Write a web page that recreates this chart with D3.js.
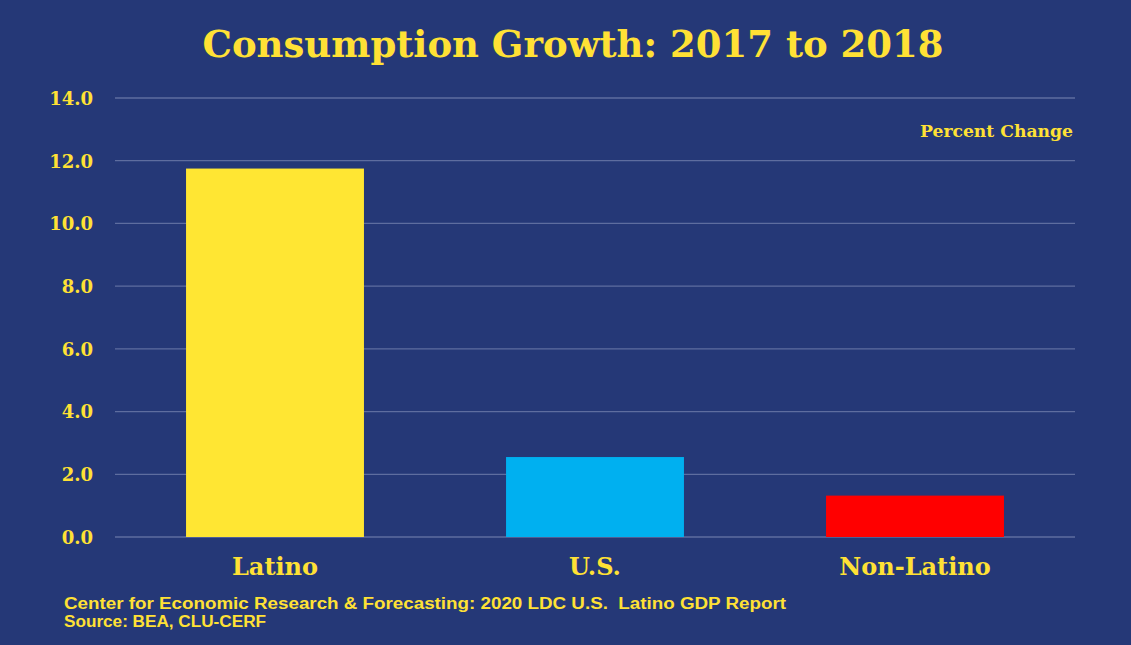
<!DOCTYPE html>
<html><head><meta charset="utf-8">
<script src="https://cdn.jsdelivr.net/npm/d3@7"></script>
<style>body{margin:0;background:#253877;}svg{display:block;}</style>
</head><body>
<script>
const categories = ["Latino", "U.S.", "Non-Latino"];
const values = [11.75, 2.55, 1.32];
const barColors = ["#FFE633", "#00B0F0", "#FF0000"];
const yTicks = [0, 2, 4, 6, 8, 10, 12, 14];
const titleText = "Consumption Growth: 2017 to 2018";
const unitLabel = "Percent Change";
const footerLines = ["Center for Economic Research & Forecasting: 2020 LDC U.S.  Latino GDP Report", "Source: BEA, CLU-CERF"];

const W = 1131, H = 645;
const yellow = "#FFE135";
const svg = d3.select("body").append("svg").attr("width", W).attr("height", H);
svg.append("rect").attr("width", W).attr("height", H).attr("fill", "#253877");

const mLeft = 115, mRight = 1075, mTop = 98, mBottom = 537;
const x = d3.scaleBand().domain(categories).range([mLeft, mRight]).paddingInner(0.444).paddingOuter(0.222);
const y = d3.scaleLinear().domain([0, 14]).range([mBottom, mTop]);

// grid
svg.append("g").selectAll("line").data(yTicks).join("line")
  .attr("x1", mLeft).attr("x2", mRight)
  .attr("y1", d => y(d)).attr("y2", d => y(d))
  .attr("stroke", "#5E6D9F").attr("stroke-width", 1.3);

// y axis labels
const yAxis = d3.axisLeft(y).tickValues(yTicks).tickFormat(d3.format(".1f")).tickSize(0).tickPadding(0);
const ga = svg.append("g").attr("transform", `translate(93,0)`).call(yAxis);
ga.select(".domain").remove();
ga.selectAll("text").attr("fill", yellow).style("font-family", "'DejaVu Serif', serif")
  .style("font-weight", "bold").style("font-size", "18px").attr("dy", "0.35em");

// bars
svg.append("g").selectAll("rect").data(values).join("rect")
  .attr("x", (d, i) => x(categories[i]))
  .attr("width", x.bandwidth())
  .attr("y", d => y(d))
  .attr("height", d => y(0) - y(d))
  .attr("fill", (d, i) => barColors[i]);

// x axis labels
const xAxis = d3.axisBottom(x).tickSize(0).tickPadding(0);
const gx = svg.append("g").attr("transform", `translate(0,${mBottom + 38})`).call(xAxis);
gx.select(".domain").remove();
gx.selectAll("text").attr("fill", yellow).attr("dy", 0).style("font-family", "'DejaVu Serif', serif")
  .style("font-weight", "bold").style("font-size", "24px");

// title
svg.append("text").attr("x", 573).attr("y", 57).attr("text-anchor", "middle")
  .attr("fill", yellow).style("font-family", "'DejaVu Serif', serif").style("font-weight", "bold")
  .style("font-size", "37px").text(titleText);

// unit label
svg.append("text").attr("x", 1073).attr("y", 137).attr("text-anchor", "end")
  .attr("fill", yellow).style("font-family", "'DejaVu Serif', serif").style("font-weight", "bold")
  .style("font-size", "16px").attr("textLength", 153).attr("lengthAdjust", "spacingAndGlyphs").text(unitLabel);

// footer
const footerWidths = [722, 202];
svg.append("g").selectAll("text").data(footerLines).join("text")
  .attr("x", 64).attr("y", (d, i) => 609 + i * 18)
  .attr("fill", yellow).style("font-family", "'Liberation Sans Narrow', 'Liberation Sans', sans-serif")
  .style("font-weight", "bold").style("font-size", "16px").style("white-space", "pre")
  .attr("textLength", (d, i) => footerWidths[i]).attr("lengthAdjust", "spacingAndGlyphs")
  .text(d => d);
</script>
</body></html>
